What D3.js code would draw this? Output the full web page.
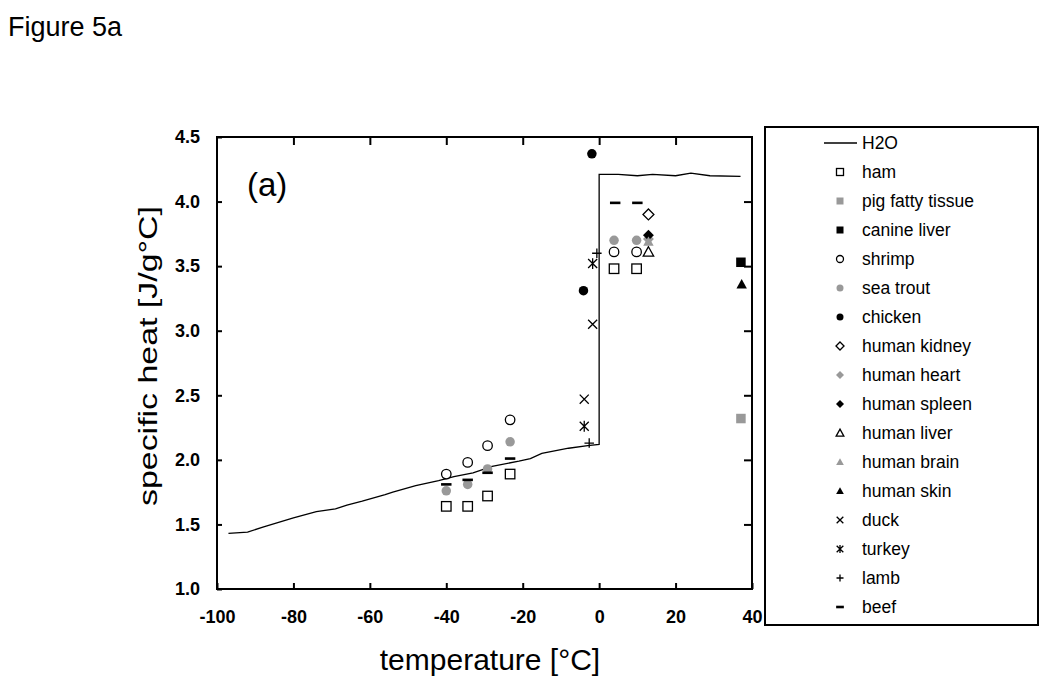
<!DOCTYPE html>
<html>
<head>
<meta charset="utf-8">
<script src="https://cdn.jsdelivr.net/npm/d3@7"></script>
<style>
  body { margin: 0; background: #fff; }
  svg { font-family: Arial, "Liberation Sans", sans-serif; }
</style>
</head>
<body>
<div id="chart"></div>
<script>
// H2O reference curve
var h2oT  = [-97, -92, -88, -80, -74, -69, -66, -62, -56, -54, -48, -42, -38, -33, -28, -21, -18, -15, -8, -3, 0, 0, 5, 10, 14, 20, 24, 29, 37];
var h2oCp = [1.43, 1.44, 1.48, 1.55, 1.60, 1.62, 1.65, 1.68, 1.73, 1.75, 1.80, 1.84, 1.87, 1.90, 1.95, 1.99, 2.01, 2.05, 2.09, 2.11, 2.12, 4.21, 4.21, 4.20, 4.21, 4.20, 4.22, 4.20, 4.195];

// measured points: [temperature, specific heat]
var ham         = [[-40, 1.64], [-34.4, 1.64], [-29.2, 1.72], [-23.3, 1.89], [3.9, 3.48], [9.8, 3.48]];
var pigFat      = [[37.1, 2.32]];
var canineLiver = [[37.1, 3.53]];
var shrimp      = [[-40, 1.89], [-34.4, 1.98], [-29.2, 2.11], [-23.3, 2.31], [3.9, 3.61], [9.8, 3.61]];
var seaTrout    = [[-40, 1.76], [-34.4, 1.81], [-29.2, 1.93], [-23.3, 2.14], [3.9, 3.70], [9.8, 3.70]];
var chicken     = [[-1.9, 4.37], [-4.1, 3.31]];
var humanKidney = [[12.9, 3.90]];
var humanHeart  = [[12.9, 3.71]];
var humanSpleen = [[12.9, 3.74]];
var humanLiver  = [[12.9, 3.61]];
var humanBrain  = [[12.9, 3.69]];
var humanSkin   = [[37.3, 3.36]];
var duck        = [[-1.7, 3.05], [-3.9, 2.47]];
var turkey      = [[-1.7, 3.52], [-3.9, 2.26]];
var lamb        = [[-0.6, 3.60], [-2.6, 2.13]];
var beef        = [[-40, 1.81], [-34.4, 1.845], [-29.2, 1.90], [-23.3, 2.01], [4.2, 3.99], [10, 3.99]];

var xTicks = [-100, -80, -60, -40, -20, 0, 20, 40];
var yTicks = [1.0, 1.5, 2.0, 2.5, 3.0, 3.5, 4.0, 4.5];

var grey = '#999999';
var series = [
    {name: 'ham', shape: 'square', fill: 'none', pts: ham},
    {name: 'pig fatty tissue', shape: 'square', fill: grey, pts: pigFat},
    {name: 'canine liver', shape: 'square', fill: '#000', pts: canineLiver},
    {name: 'shrimp', shape: 'circle', fill: 'none', pts: shrimp},
    {name: 'sea trout', shape: 'circle', fill: grey, pts: seaTrout},
    {name: 'chicken', shape: 'circle', fill: '#000', pts: chicken},
    {name: 'human kidney', shape: 'diamond', fill: 'none', pts: humanKidney},
    {name: 'human heart', shape: 'diamond', fill: grey, pts: humanHeart},
    {name: 'human spleen', shape: 'diamond', fill: '#000', pts: humanSpleen},
    {name: 'human liver', shape: 'triangle', fill: 'none', pts: humanLiver},
    {name: 'human brain', shape: 'triangle', fill: grey, pts: humanBrain},
    {name: 'human skin', shape: 'triangle', fill: '#000', pts: humanSkin},
    {name: 'duck', shape: 'cross', fill: 'none', pts: duck},
    {name: 'turkey', shape: 'star', fill: 'none', pts: turkey},
    {name: 'lamb', shape: 'plus', fill: 'none', pts: lamb},
    {name: 'beef', shape: 'dash', fill: 'none', pts: beef}
];

var width = 1050, height = 690;
var plot = {left: 217, right: 752, top: 137, bottom: 589};

var svg = d3.select('#chart').append('svg')
    .attr('width', width)
    .attr('height', height);

var xScale = d3.scaleLinear().domain([-100, 40]).range([plot.left, plot.right]);
var yScale = d3.scaleLinear().domain([1.0, 4.5]).range([plot.bottom, plot.top]);

// draws one marker, s = nominal size in px
function marker(g, shape, fill, cx, cy, s) {
    var h = s / 2;
    var stroke = fill === 'none' ? '#000' : 'none';
    var f = fill === 'none' ? '#fff' : fill;
    if (shape === 'square') {
        g.append('rect').attr('x', cx - h).attr('y', cy - h).attr('width', s).attr('height', s)
            .attr('fill', f).attr('stroke', stroke).attr('stroke-width', 1.3);
    } else if (shape === 'circle') {
        g.append('circle').attr('cx', cx).attr('cy', cy).attr('r', h)
            .attr('fill', f).attr('stroke', stroke).attr('stroke-width', 1.3);
    } else if (shape === 'diamond') {
        var d = h * 1.15;
        g.append('path').attr('d', 'M' + cx + ',' + (cy - d) + 'L' + (cx + d) + ',' + cy + 'L' + cx + ',' + (cy + d) + 'L' + (cx - d) + ',' + cy + 'Z')
            .attr('fill', f).attr('stroke', stroke).attr('stroke-width', 1.3);
    } else if (shape === 'triangle') {
        var t = h * 1.1;
        g.append('path').attr('d', 'M' + cx + ',' + (cy - t) + 'L' + (cx + t) + ',' + (cy + t * 0.8) + 'L' + (cx - t) + ',' + (cy + t * 0.8) + 'Z')
            .attr('fill', f).attr('stroke', stroke).attr('stroke-width', 1.3);
    } else if (shape === 'cross' || shape === 'star') {
        var c = h * 0.95;
        var p = 'M' + (cx - c) + ',' + (cy - c) + 'L' + (cx + c) + ',' + (cy + c) +
                'M' + (cx - c) + ',' + (cy + c) + 'L' + (cx + c) + ',' + (cy - c);
        if (shape === 'star') p += 'M' + cx + ',' + (cy - c * 1.2) + 'L' + cx + ',' + (cy + c * 1.2);
        g.append('path').attr('d', p).attr('fill', 'none').attr('stroke', '#000').attr('stroke-width', 1.3);
    } else if (shape === 'plus') {
        g.append('path').attr('d', 'M' + (cx - h) + ',' + cy + 'L' + (cx + h) + ',' + cy + 'M' + cx + ',' + (cy - h) + 'L' + cx + ',' + (cy + h))
            .attr('fill', 'none').attr('stroke', '#000').attr('stroke-width', 1.3);
    } else if (shape === 'dash') {
        g.append('rect').attr('x', cx - h * 1.1).attr('y', cy - 1.3).attr('width', s * 1.1).attr('height', 2.6)
            .attr('fill', '#000');
    }
}

// H2O line
var h2o = h2oT.map(function (t, i) { return [t, h2oCp[i]]; });
svg.append('path')
    .datum(h2o)
    .attr('fill', 'none')
    .attr('stroke', '#000')
    .attr('stroke-width', 1.3)
    .attr('d', d3.line().x(function (d) { return xScale(d[0]); }).y(function (d) { return yScale(d[1]); }));

// points
var pts = svg.append('g');
series.forEach(function (s) {
    s.pts.forEach(function (p) {
        marker(pts, s.shape, s.fill, xScale(p[0]), yScale(p[1]), 9.5);
    });
});

// frame with axes
svg.append('rect')
    .attr('x', plot.left).attr('y', plot.top)
    .attr('width', plot.right - plot.left).attr('height', plot.bottom - plot.top)
    .attr('fill', 'none').attr('stroke', '#000').attr('stroke-width', 2);

var xAxisB = svg.append('g').attr('transform', 'translate(0,' + plot.bottom + ')')
    .call(d3.axisBottom(xScale).tickValues(xTicks).tickSize(-6).tickPadding(18)
        .tickFormat(function (d) { return String(d); }));
var xAxisT = svg.append('g').attr('transform', 'translate(0,' + plot.top + ')')
    .call(d3.axisTop(xScale).tickValues(xTicks.slice(1, -1)).tickSize(-8).tickFormat(''));
var yAxisL = svg.append('g').attr('transform', 'translate(' + plot.left + ',0)')
    .call(d3.axisLeft(yScale).tickValues(yTicks).tickSize(-5).tickPadding(17).tickFormat(d3.format('.1f')));
var yAxisR = svg.append('g').attr('transform', 'translate(' + plot.right + ',0)')
    .call(d3.axisRight(yScale).tickValues(yTicks.slice(1, -1)).tickSize(-8).tickFormat(''));

[xAxisB, xAxisT, yAxisL, yAxisR].forEach(function (a) {
    a.select('.domain').remove();
    a.selectAll('line').attr('stroke', '#000').attr('stroke-width', 2);
    a.selectAll('text').attr('font-size', 18).attr('font-weight', 'bold').attr('fill', '#000')
        .attr('font-family', 'Arial, "Liberation Sans", sans-serif');
});
xAxisB.selectAll('text').attr('dy', '0.9em');

// titles
svg.append('text')
    .attr('x', 8).attr('y', 36)
    .attr('font-size', 27)
    .text('Figure 5a');

svg.append('text')
    .attr('x', 247).attr('y', 196)
    .attr('font-size', 33)
    .text('(a)');

svg.append('text')
    .attr('x', 490).attr('y', 670)
    .attr('text-anchor', 'middle')
    .attr('font-size', 30)
    .text('temperature [°C]');

svg.append('text')
    .attr('transform', 'translate(157,356) rotate(-90)')
    .attr('text-anchor', 'middle')
    .attr('font-size', 25)
    .attr('textLength', 300)
    .attr('lengthAdjust', 'spacingAndGlyphs')
    .text('specific heat [J/g°C]');

// legend
var legend = svg.append('g');
legend.append('rect')
    .attr('x', 765).attr('y', 127)
    .attr('width', 273).attr('height', 498)
    .attr('fill', '#fff').attr('stroke', '#000').attr('stroke-width', 2);

var rowY = function (i) { return 143 + i * 29; };
legend.append('line')
    .attr('x1', 824).attr('x2', 857).attr('y1', rowY(0)).attr('y2', rowY(0))
    .attr('stroke', '#000').attr('stroke-width', 1.3);
legend.append('text')
    .attr('x', 862).attr('y', rowY(0)).attr('dy', '0.35em')
    .attr('font-size', 17.5)
    .text('H2O');

series.forEach(function (s, i) {
    var y = rowY(i + 1);
    marker(legend, s.shape, s.fill, 840, y, 7);
    legend.append('text')
        .attr('x', 862).attr('y', y).attr('dy', '0.35em')
        .attr('font-size', 17.5)
        .text(s.name);
});
</script>
</body>
</html>
